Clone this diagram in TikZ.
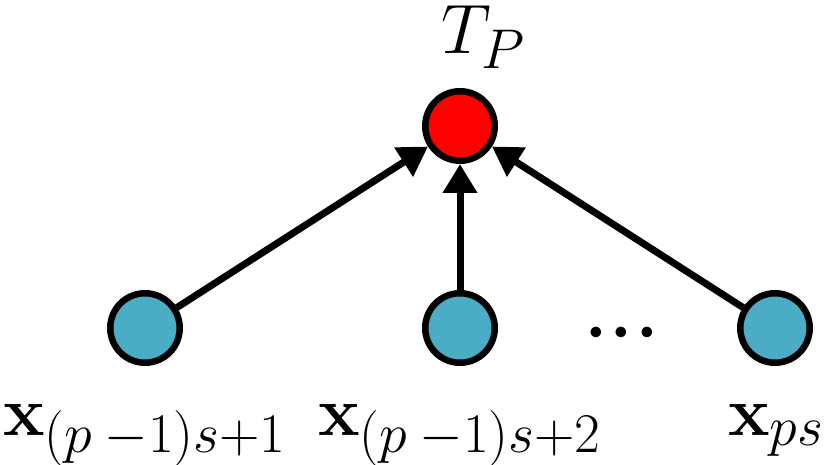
\RequirePackage{fix-cm}
\documentclass[tikz,border=0pt]{standalone}
\usetikzlibrary{arrows.meta}
\DeclareMathSizes{70}{70}{56}{42}
\DeclareMathSizes{68}{68}{54}{40}
\definecolor{nodeblue}{RGB}{75,172,198}
\begin{document}
\begin{tikzpicture}[x=1pt,y=1pt,
  vnode/.style={circle,draw=black,line width=6.5pt,minimum size=69.5pt,inner sep=0pt},
  edge/.style={line width=7pt,-{Triangle[length=29pt,width=33pt]}},
  lbl/.style={font=\fontsize{70}{84}\selectfont,inner sep=0pt}]
\useasboundingbox (0,0) rectangle (830,464);
\node[vnode,fill=red] (t) at (460,338) {};
\node[vnode,fill=nodeblue] (a) at (145,136) {};
\node[vnode,fill=nodeblue] (b) at (460,136) {};
\node[vnode,fill=nodeblue] (c) at (775,136) {};
\node[font=\fontsize{68}{80}\selectfont\boldmath,inner sep=0pt,anchor=base] (dots) at (621.8,114.3) {${\cdot}\kern3.6pt{\cdot}\kern3.6pt{\cdot}$};
\node[lbl,anchor=base west] (tl) at (441,410) {$T_P$};
\node[lbl,anchor=base west] (al) at (3,29) {$\mathbf{x}_{(p\:-1)s+1}$};
\node[lbl,anchor=base west] (bl) at (318,29) {$\mathbf{x}_{(p\:-1)s+2}$};
\node[lbl,anchor=base west] (cl) at (728,29) {$\mathbf{x}_{ps}$};
\draw[edge] (a) -- (t);
\draw[edge] (b) -- (t);
\draw[edge] (c) -- (t);
\end{tikzpicture}
\end{document}
